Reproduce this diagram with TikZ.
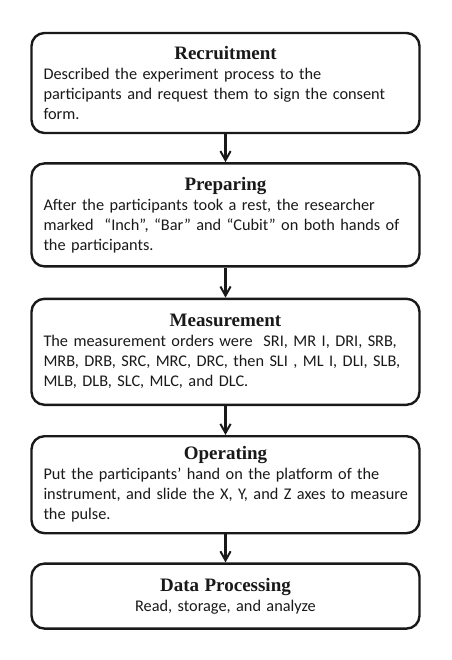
\documentclass[tikz,border=0pt]{standalone}
\usepackage{fontspec}
\setmainfont{Carlito}
\newfontfamily\titlefont{Liberation Serif}
\usetikzlibrary{positioning, arrows.meta}
\hyphenpenalty=10000

\begin{document}
\begin{tikzpicture}[x=1pt, y=1pt,
    stagebox/.style={draw=black!90, line width=2.4pt, rounded corners=13pt,
      text width=364pt, inner xsep=12pt, inner ysep=4pt, align=left,
      text=black!90, font=\fontsize{16.3}{20}\selectfont},
    flowarrow/.style={-{Straight Barb[length=3.2mm, width=3.6mm, line width=2pt]},
      line width=2.2pt, black!90}]
        \useasboundingbox (0,0) rectangle (451,-660);
        \node[stagebox, minimum height=100pt] (recruit) at (225.5,-83) {%
          {\centering\titlefont\fontsize{19}{21}\selectfont\bfseries Recruitment\par}
          Described the experiment process to the\\
          participants and request them to sign the consent\\
          form.};
        \node[stagebox, minimum height=103pt, below=28pt of recruit] (prepare) {%
          {\centering\titlefont\fontsize{19}{21}\selectfont\bfseries Preparing\par}
          After the participants took a rest, the researcher\\
          marked ~``Inch'', ``Bar'' and ``Cubit'' on both hands of\\
          the participants.};
        \node[stagebox, minimum height=106pt, below=30pt of prepare] (measure) {%
          {\centering\titlefont\fontsize{19}{21}\selectfont\bfseries Measurement\par}
          The measurement orders were ~SRI, MR I, DRI, SRB,\\
          MRB, DRB, SRC, MRC, DRC, then SLI , ML I, DLI, SLB,\\
          MLB, DLB, SLC, MLC, and DLC.};
        \node[stagebox, minimum height=97pt, below=29pt of measure] (operate) {%
          {\centering\titlefont\fontsize{19}{21}\selectfont\bfseries Operating\par}
          Put the participants' hand on the platform of the\\
          \mbox{instrument, and slide the X, Y, and Z axes to measure}\\
          the pulse.};
        \node[stagebox, minimum height=65pt, below=28pt of operate] (process) {%
          {\centering\titlefont\fontsize{19}{21}\selectfont\bfseries Data Processing\par}
          {\centering Read, storage, and analyze\par}};
        % arrows between the stages
        \draw[flowarrow] (recruit) -- (prepare);
        \draw[flowarrow] (prepare) -- (measure);
        \draw[flowarrow] (measure) -- (operate);
        \draw[flowarrow] (operate) -- (process);
     \end{tikzpicture}
\end{document}
